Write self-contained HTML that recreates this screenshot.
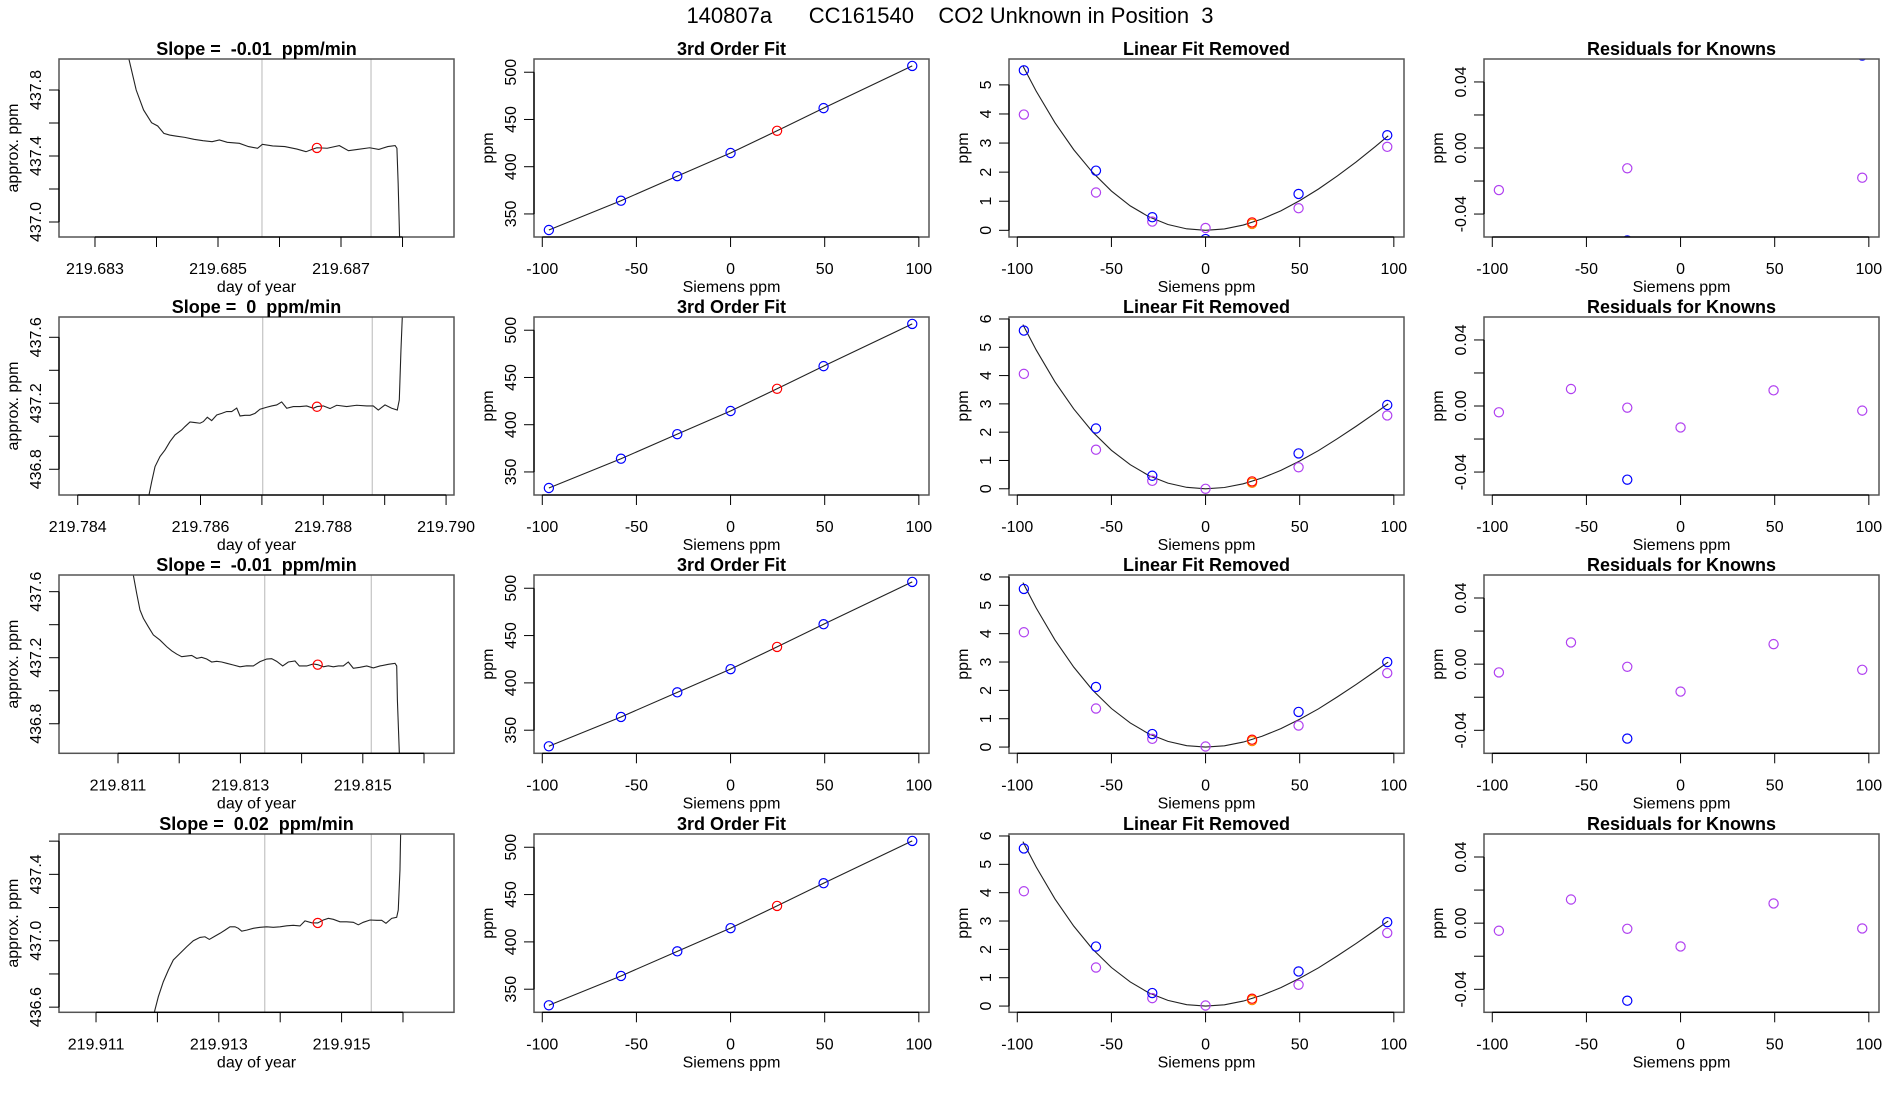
<!DOCTYPE html>
<html><head><meta charset="utf-8"><title>CO2 Unknown in Position 3</title>
<style>
html,body{margin:0;padding:0;background:#fff;}
svg{display:block;font-family:"Liberation Sans",Arial,sans-serif;}
svg text{white-space:pre;}
</style></head>
<body>
<svg id="chart" width="1900" height="1100" viewBox="0 0 1900 1100" xmlns="http://www.w3.org/2000/svg">
<rect x="0" y="0" width="1900" height="1100" fill="#fff"/>
<text x="950" y="23" text-anchor="middle" font-size="22" style="white-space:pre">140807a      CC161540    CO2 Unknown in Position  3</text>
</svg>
<script>
// ---- time series (day of year, approx ppm) per row ----
const tsDay1=[219.68355,219.68367,219.68379,219.68392,219.68402,219.68412,219.684214,219.684313,219.684461,219.684608,219.684756,219.684904,219.685023,219.685151,219.685348,219.685496,219.685643,219.685722,219.685889,219.686086,219.686283,219.686431,219.68653,219.686608,219.686776,219.686973,219.687121,219.687268,219.687466,219.687614,219.687761,219.68788,219.687909,219.687929,219.687959];
const tsPpm1=[437.99,437.80,437.679,437.602,437.582,437.537,437.527,437.521,437.513,437.501,437.493,437.487,437.497,437.483,437.477,437.457,437.447,437.471,437.461,437.457,437.442,437.426,437.44,437.45,437.447,437.463,437.432,437.44,437.45,437.44,437.457,437.463,437.447,437.235,436.81];
const tsDay2=[219.785161,219.785205,219.785259,219.78534,219.785422,219.785503,219.785585,219.785693,219.785748,219.785829,219.78591,219.785992,219.786046,219.786111,219.786182,219.786264,219.786345,219.786427,219.786508,219.78659,219.786644,219.786725,219.786806,219.786888,219.786969,219.787078,219.78716,219.787241,219.787322,219.787404,219.787512,219.787621,219.78773,219.787838,219.787898,219.788,219.788109,219.788218,219.788381,219.788544,219.788707,219.788814,219.788896,219.789005,219.789114,219.789205,219.789238,219.789265,219.789287];
const tsPpm2=[436.644,436.725,436.816,436.877,436.917,436.968,437.008,437.038,437.059,437.087,437.083,437.079,437.089,437.115,437.095,437.129,437.139,437.15,437.15,437.171,437.123,437.127,437.127,437.139,437.164,437.176,437.184,437.19,437.208,437.17,437.18,437.18,437.184,437.17,437.18,437.184,437.168,437.188,437.18,437.188,437.184,437.184,437.159,437.19,437.17,437.159,437.22,437.523,437.725];
const tsDay3=[219.81125,219.811305,219.811359,219.811414,219.811495,219.811577,219.811686,219.811795,219.811877,219.811959,219.812041,219.812122,219.812204,219.812286,219.812367,219.812449,219.812531,219.812612,219.812694,219.812776,219.812884,219.812993,219.813103,219.813211,219.81332,219.81343,219.813511,219.813593,219.813691,219.813783,219.813892,219.813963,219.814083,219.814191,219.814263,219.814355,219.814436,219.814518,219.8146,219.814681,219.814763,219.814845,219.814954,219.815064,219.815172,219.815281,219.815417,219.815526,219.815554,219.815565,219.815597,219.815608];
const tsPpm3=[437.701,437.59,437.489,437.439,437.388,437.338,437.307,437.267,437.242,437.222,437.206,437.21,437.214,437.196,437.202,437.192,437.174,437.178,437.174,437.166,437.156,437.145,437.151,437.15,437.176,437.192,437.194,437.178,437.15,437.174,437.18,437.15,437.15,437.162,437.158,437.145,437.151,437.145,437.15,437.15,437.174,437.136,437.142,437.15,437.138,437.15,437.16,437.166,437.15,436.944,436.621,436.539];
const tsDay4=[219.91195,219.912015,219.912096,219.912178,219.912259,219.912368,219.912477,219.912585,219.912694,219.912775,219.912846,219.912938,219.91302,219.913101,219.913182,219.913264,219.913318,219.913373,219.913454,219.913562,219.913671,219.91378,219.913888,219.913997,219.914106,219.914213,219.914322,219.914404,219.914513,219.914611,219.914702,219.914784,219.914865,219.914974,219.915083,219.915191,219.915272,219.915353,219.915463,219.915572,219.915653,219.915723,219.915816,219.915897,219.915923,219.915951,219.915962];
const tsPpm4=[436.569,436.663,436.753,436.823,436.884,436.924,436.964,437.0,437.02,437.024,437.008,437.028,437.045,437.064,437.084,437.084,437.075,437.058,437.064,437.075,437.081,437.084,437.081,437.084,437.09,437.093,437.089,437.12,437.108,437.107,437.125,437.135,437.129,437.114,437.114,437.111,437.096,437.111,437.125,437.123,437.123,437.105,437.135,437.141,437.185,437.426,437.647];
const unkDay=[219.686608,219.787897,219.814263,219.914611];
const unkPpm=[437.449,437.179,437.158,437.107];
const vline1=[219.685715,219.787013,219.813397,219.913748];
const vline2=[219.687488,219.788798,219.815139,219.915484];
const slopes=["-0.01","0","-0.01","0.02"];
// ---- calibration data ----
const stdX=[-96.5,-58.2,-28.3,0,49.4,96.5];
const unkX=24.7;
const stdPpm=[333,364,390,414.5,462,506.7];
const unkFitPpm=438;
// linear fit removed (rows)
const lfrBlue=[[5.5,2.05,0.45,-0.3,1.25,3.27],[5.59,2.13,0.46,null,1.25,2.96],[5.58,2.12,0.46,null,1.24,3.0],[5.56,2.1,0.46,null,1.22,2.96]];
const lfrPurple=[[3.98,1.3,0.3,0.08,0.76,2.87],[4.06,1.38,0.28,0.0,0.76,2.59],[4.05,1.36,0.29,0.02,0.76,2.61],[4.05,1.36,0.28,0.02,0.75,2.58]];
const lfrUnkBlue=[0.27,0.26,0.26,0.26];
const lfrUnkPurple=[0.22,0.21,0.21,0.21];
const curveX=[-97,-90,-80,-70,-60,-50,-40,-30,-20,-10,0,10,20,30,40,50,60,70,80,90,97];
const curveY1=[5.65,4.79,3.70,2.77,1.99,1.35,0.84,0.46,0.20,0.05,0,0.046,0.18,0.39,0.67,1.02,1.42,1.87,2.35,2.87,3.25];
const curveY2=[5.80,4.91,3.78,2.82,2.01,1.36,0.85,0.46,0.20,0.05,0,0.045,0.175,0.38,0.65,0.98,1.35,1.77,2.21,2.67,3.0];
// residuals for knowns
const resPurple=[[-0.0255,null,-0.0123,null,null,-0.018],[-0.0038,0.0103,-0.001,-0.013,0.0095,-0.0028],[-0.005,0.0131,-0.0016,-0.0166,0.0121,-0.0034],[-0.0046,0.0143,-0.0034,-0.0141,0.0119,-0.0032]];
const resBlueX=[[-28.3,96.5],[-28.3],[-28.3],[-28.3]];
const resBlueY=[[-0.056,0.056],[-0.0446],[-0.045],[-0.0469]];
// axis ranges & ticks
const tsXdom=[[219.682415,219.688837],[219.783695,219.790129],[219.810036,219.81649],[219.910397,219.916831]];
const tsYdom=[[436.909,437.988],[436.644,437.723],[436.621,437.701],[436.569,437.643]];
const tsXticks=[[219.683,219.684,219.685,219.686,219.687,219.688],[219.784,219.785,219.786,219.787,219.788,219.789,219.790],[219.811,219.812,219.813,219.814,219.815,219.816],[219.911,219.912,219.913,219.914,219.915,219.916]];
const tsXlabels=[["219.683","","219.685","","219.687",""],["219.784","","219.786","","219.788","","219.790"],["219.811","","219.813","","219.815",""],["219.911","","219.913","","219.915",""]];
const tsYticks=[[437.0,437.2,437.4,437.6,437.8],[436.8,437.0,437.2,437.4,437.6],[436.8,437.0,437.2,437.4,437.6],[436.6,436.8,437.0,437.2,437.4,437.6]];
const tsYlabels=[["437.0","","437.4","","437.8"],["436.8","","437.2","","437.6"],["436.8","","437.2","","437.6"],["436.6","","437.0","","437.4",""]];
const calXticks=[-100,-50,0,50,100];
const calXlabels=["-100","-50","0","50","100"];
const fitYticks=[350,400,450,500];
const lfrYticks1=[0,1,2,3,4,5];
const lfrYticks2=[0,1,2,3,4,5,6];
const resYticks=[-0.04,-0.02,0,0.02,0.04];
const resYlabels=["-0.04","","0.00","","0.04"];

const NS="http://www.w3.org/2000/svg";
const svg=document.getElementById('chart');
const cols=[[59,454],[534,929],[1009,1404],[1484,1879]];
const rows=[[59,237],[317,495],[575,753.3],[834,1012.3]];
function el(tag,attrs,parent){const e=document.createElementNS(NS,tag);for(const k in attrs)e.setAttribute(k,attrs[k]);(parent||svg).appendChild(e);return e;}
function scale(d,r){return v=>r[0]+(v-d[0])/(d[1]-d[0])*(r[1]-r[0]);}
let clipId=0;
function panel(ri,ci,xd,yd,xt,xl,yt,yl,title,xlab,ylab,name){
  const [l,r]=cols[ci],[t,b]=rows[ri];
  const g=el('g',{});
  
  
  const sx=scale(xd,[l,r]), sy=scale(yd,[b,t]);
  const cid='c'+(clipId++);
  const cp=el('clipPath',{id:cid},g);el('rect',{x:l,y:t,width:r-l,height:b-t},cp);
  const plot=el('g',{'clip-path':'url(#'+cid+')'},g);
  
  
  const box=el('rect',{x:l,y:t,width:r-l,height:b-t,fill:'none',stroke:'#555','stroke-width':1.5},g);
  
  
  // x axis
  const xa=el('g',{},g);
  
  
  el('line',{x1:sx(xt[0]),x2:sx(xt[xt.length-1]),y1:b,y2:b,stroke:'#000','stroke-width':1.3},xa);
  xt.forEach((v,i)=>{const x=sx(v);el('line',{x1:x,x2:x,y1:b,y2:b+10,stroke:'#000','stroke-width':1},xa);
    if(xl[i]){const tx=el('text',{x:x,y:b+37,'text-anchor':'middle','font-size':16},xa);tx.textContent=xl[i];
    
    }});
  // y axis
  const ya=el('g',{},g);
  
  
  el('line',{x1:l,x2:l,y1:sy(yt[0]),y2:sy(yt[yt.length-1]),stroke:'#000','stroke-width':1.3},ya);
  yt.forEach((v,i)=>{const y=sy(v);el('line',{x1:l,x2:l-10,y1:y,y2:y,stroke:'#000','stroke-width':1},ya);
    if(yl[i]){const tx=el('text',{x:l-18,y:y,'text-anchor':'middle','font-size':16,transform:'rotate(-90 '+(l-18)+' '+y+')'},ya);tx.textContent=yl[i];
    
    }});
  const tt=el('text',{x:(l+r)/2,y:t-4,'text-anchor':'middle','font-size':18,'font-weight':'bold'},g);tt.textContent=title;
  
  
  const xt2=el('text',{x:(l+r)/2,y:b+55,'text-anchor':'middle','font-size':16},g);xt2.textContent=xlab;
  
  
  const yx=l-41,ym=(t+b)/2;
  const yt2=el('text',{x:yx,y:ym,'text-anchor':'middle','font-size':16,transform:'rotate(-90 '+yx+' '+ym+')'},g);yt2.textContent=ylab;
  
  
  return {plot,sx,sy};
}
function circle(p,x,y,color,name){
  const c=el('circle',{cx:p.sx(x),cy:p.sy(y),r:4.6,fill:'none',stroke:color,'stroke-width':1.2},p.plot);
  
  
}
function line(p,xs,ys,color,w,name){
  const pts=xs.map((x,i)=>p.sx(x).toFixed(2)+','+p.sy(ys[i]).toFixed(2)).join(' ');
  const pl=el('polyline',{points:pts,fill:'none',stroke:color,'stroke-width':w},p.plot);
  
  
}
const tsD=[tsDay1,tsDay2,tsDay3,tsDay4],tsP=[tsPpm1,tsPpm2,tsPpm3,tsPpm4];
const curves=[curveY1,curveY2,curveY2,curveY2];
for(let ri=0;ri<4;ri++){
  const p1=panel(ri,0,tsXdom[ri],tsYdom[ri],tsXticks[ri],tsXlabels[ri],tsYticks[ri],tsYlabels[ri],'Slope =  '+slopes[ri]+'  ppm/min','day of year','approx. ppm','slope-panel-'+(ri+1));
  [vline1[ri],vline2[ri]].forEach(v=>{const vl=el('line',{x1:p1.sx(v),x2:p1.sx(v),y1:rows[ri][0],y2:rows[ri][1],stroke:'#c8c8c8','stroke-width':1.3},p1.plot);
    
    });
  line(p1,tsD[ri],tsP[ri],'#222',1.1,'ppm-trace');
  circle(p1,unkDay[ri],unkPpm[ri],'#f00','unknown-mean-point');
  const p2=panel(ri,1,[-104.4,105.4],[325.6,514],calXticks,calXlabels,fitYticks,fitYticks.map(String),'3rd Order Fit','Siemens ppm','ppm','fit-panel-'+(ri+1));
  const fx=stdX.slice(0,4).concat([unkX]).concat(stdX.slice(4));
  const fy=stdPpm.slice(0,4).concat([unkFitPpm]).concat(stdPpm.slice(4));
  line(p2,fx,fy,'#222',1.1,'fit-curve');
  stdX.forEach((x,i)=>circle(p2,x,stdPpm[i],'#00f','standard-point'));
  circle(p2,unkX,unkFitPpm,'#f00','unknown-point');
  const lyt=ri===0?lfrYticks1:lfrYticks2;
  const p3=panel(ri,2,[-104.4,105.4],ri===0?[-0.23,5.89]:[-0.22,6.07],calXticks,calXlabels,lyt,lyt.map(String),'Linear Fit Removed','Siemens ppm','ppm','linear-removed-panel-'+(ri+1));
  line(p3,curveX,curves[ri],'#222',1.1,'fit-curve');
  stdX.forEach((x,i)=>{if(lfrPurple[ri][i]!==null)circle(p3,x,lfrPurple[ri][i],'#b040f0','measured-point');});
  stdX.forEach((x,i)=>{if(lfrBlue[ri][i]!==null)circle(p3,x,lfrBlue[ri][i],'#00f','standard-point');});
  circle(p3,unkX,lfrUnkPurple[ri],'#ff8c00','unknown-measured-point');
  circle(p3,unkX,lfrUnkBlue[ri],'#f00','unknown-point');
  const p4=panel(ri,3,[-104.4,105.4],[-0.0539,0.0539],calXticks,calXlabels,resYticks,resYlabels,'Residuals for Knowns','Siemens ppm','ppm','residuals-panel-'+(ri+1));
  stdX.forEach((x,i)=>{if(resPurple[ri][i]!==null)circle(p4,x,resPurple[ri][i],'#b040f0','residual-point');});
  resBlueX[ri].forEach((x,i)=>circle(p4,x,resBlueY[ri][i],'#00f','residual-outlier-point'));
}
</script>
</body></html>
